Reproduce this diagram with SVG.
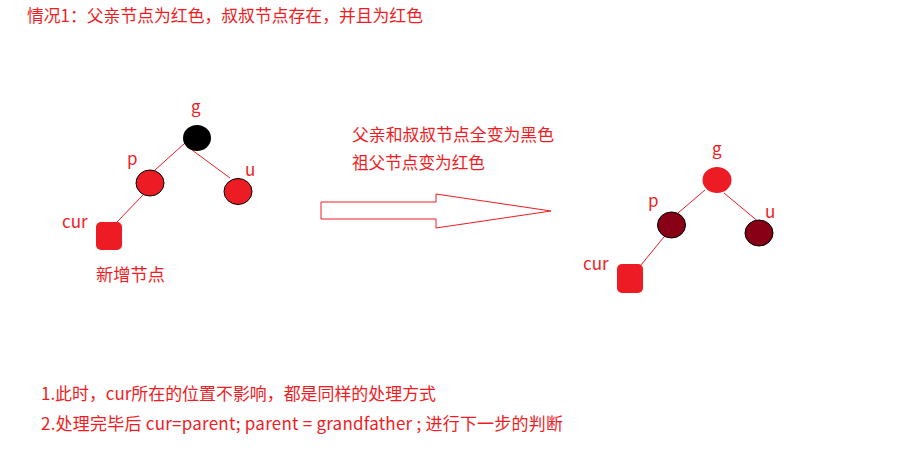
<svg xmlns="http://www.w3.org/2000/svg" width="920" height="469" viewBox="0 0 920 469">
<style>
text{font-family:"Microsoft YaHei","Noto Sans CJK SC","Noto Sans",sans-serif;fill:#f01c24;font-size:17px}
.lbl{font-size:17px}
.edge{stroke:#ed1c24;stroke-width:1;fill:none}
.red{fill:#ed1c24}
.blk{fill:#000}
.dark{fill:#880015}
.ol{stroke:#000;stroke-width:1}
</style>
<rect width="920" height="469" fill="#fff"/>
<text x="27" y="22" textLength="396" lengthAdjust="spacingAndGlyphs">情况1：父亲节点为红色，叔叔节点存在，并且为红色</text>
<g id="connectors">
<line class="edge" x1="185" y1="143" x2="155" y2="170"/>
<line class="edge" x1="188" y1="147" x2="230" y2="178"/>
<line class="edge" x1="143" y1="195" x2="117" y2="222"/>
<line class="edge" x1="705" y1="190" x2="678" y2="213"/>
<line class="edge" x1="724" y1="193" x2="760" y2="223"/>
<line class="edge" x1="668" y1="232" x2="641" y2="265"/>
</g>
<g id="L-g"><ellipse class="blk" cx="197" cy="138" rx="14" ry="13"/><text class="lbl" x="191" y="113">g</text></g>
<g id="L-p"><ellipse class="red ol" cx="150" cy="183" rx="14" ry="13"/><text class="lbl" x="127" y="165">p</text></g>
<g id="L-u"><ellipse class="red ol" cx="238" cy="191.5" rx="14" ry="13"/><text class="lbl" x="245" y="176">u</text></g>
<g id="L-cur"><rect class="red" x="96" y="222" width="26" height="28" rx="5"/><text class="lbl" x="62" y="228">cur</text><text x="96" y="281" textLength="69" lengthAdjust="spacingAndGlyphs">新增节点</text></g>
<g id="arrow">
<polygon points="321,202 436,202 436,194 551,211 436,228 436,219 321,219" fill="#fff" stroke="#ed1c24" stroke-width="1"/>
<text x="352" y="141" textLength="202" lengthAdjust="spacingAndGlyphs">父亲和叔叔节点全变为黑色</text>
<text x="352" y="169" textLength="133" lengthAdjust="spacingAndGlyphs">祖父节点变为红色</text>
</g>
<g id="R-g"><ellipse class="red" cx="717" cy="180" rx="14.5" ry="13"/><text class="lbl" x="712" y="155">g</text></g>
<g id="R-p"><ellipse class="dark ol" cx="671.5" cy="225" rx="14" ry="13"/><text class="lbl" x="648" y="207">p</text></g>
<g id="R-u"><ellipse class="dark ol" cx="759" cy="233" rx="14" ry="13"/><text class="lbl" x="765" y="218">u</text></g>
<g id="R-cur"><rect class="red" x="617" y="264" width="26" height="29" rx="5"/><text class="lbl" x="583" y="270">cur</text></g>
<text x="41" y="400" textLength="395" lengthAdjust="spacingAndGlyphs">1.此时，cur所在的位置不影响，都是同样的处理方式</text>
<text x="41" y="430" textLength="522" lengthAdjust="spacing">2.处理完毕后 cur=parent; parent = grandfather ; 进行下一步的判断</text>
</svg>
